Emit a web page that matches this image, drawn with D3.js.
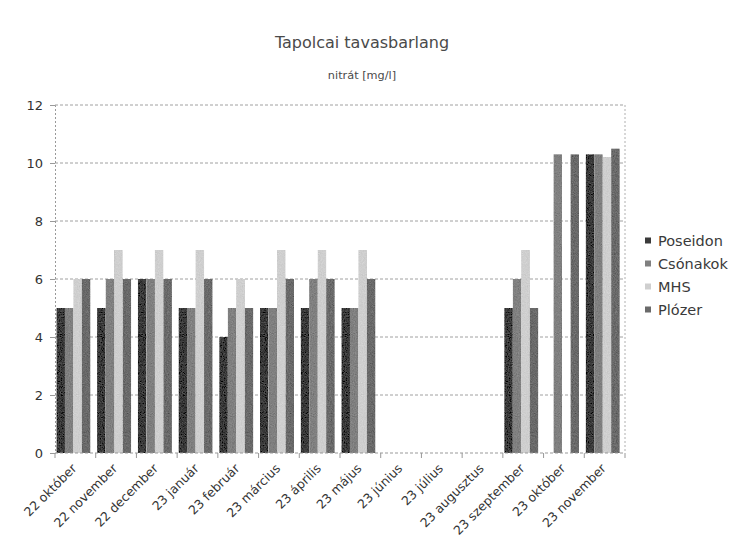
<!DOCTYPE html>
<html>
<head>
<meta charset="utf-8">
<script src="https://cdn.jsdelivr.net/npm/d3@7"></script>
<style>
  body { margin: 0; background: #fff; }
  svg { display: block; font-family: "DejaVu Sans", sans-serif; }
</style>
</head>
<body>
<svg id="chart" width="734" height="551"></svg>
<script>
const categories = ["22 október", "22 november", "22 december", "23 január", "23 február", "23 március", "23 április", "23 május", "23 június", "23 július", "23 augusztus", "23 szeptember", "23 október", "23 november"];
const seriesNames = ["Poseidon", "Csónakok", "MHS", "Plózer"];
const poseidon = [5, 5, 6, 5, 4, 5, 5, 5, null, null, null, 5, null, 10.3];
const csonakok = [5, 6, 6, 5, 5, 5, 6, 5, null, null, null, 6, 10.3, 10.3];
const mhs      = [6, 7, 7, 7, 6, 7, 7, 7, null, null, null, 7, null, 10.2];
const plozer   = [6, 6, 6, 6, 5, 6, 6, 6, null, null, null, 5, 10.3, 10.5];
const yTicks = [0, 2, 4, 6, 8, 10, 12];
const colors = ["#3a3a3a", "#808080", "#cfcfcf", "#6a6a6a"];

const seriesValues = [poseidon, csonakok, mhs, plozer];
const svg = d3.select("#chart");
const mLeft = 55, mRight = 625, mTop = 105, mBottom = 453;

// grain filter to mimic the scanned texture
const defs = svg.append("defs");
const f = defs.append("filter").attr("id", "grain").attr("x", 0).attr("y", 0).attr("width", 1).attr("height", 1);
f.append("feTurbulence").attr("type", "fractalNoise").attr("baseFrequency", 0.9).attr("numOctaves", 2).attr("seed", 3).attr("result", "n");
f.append("feColorMatrix").attr("in", "n").attr("type", "matrix")
  .attr("values", "0.33 0.33 0.33 0 0  0.33 0.33 0.33 0 0  0.33 0.33 0.33 0 0  0 0 0 0 1").attr("result", "g");
f.append("feComposite").attr("in", "SourceGraphic").attr("in2", "g").attr("operator", "arithmetic")
  .attr("k1", 0).attr("k2", 1).attr("k3", 0.3).attr("k4", -0.15).attr("result", "c");
f.append("feComposite").attr("in", "c").attr("in2", "SourceGraphic").attr("operator", "in");

const x0 = d3.scaleBand().domain(categories).range([mLeft, mRight]);
const bw = x0.bandwidth();
const x1 = d3.scaleBand().domain(seriesNames).range([0.035 * bw, 0.87 * bw]);
const y = d3.scaleLinear().domain([0, 12]).range([mBottom, mTop]);

// title
svg.append("text").attr("x", 362).attr("y", 48).attr("text-anchor", "middle")
  .attr("font-size", 16).attr("fill", "#4a4a4a").text("Tapolcai tavasbarlang");
svg.append("text").attr("x", 362).attr("y", 79).attr("text-anchor", "middle")
  .attr("font-size", 11.3).attr("fill", "#4a4a4a").text("nitrát [mg/l]");

// gridlines
svg.append("g").selectAll("line").data(yTicks.filter(d => d > 0)).join("line")
  .attr("x1", mLeft).attr("x2", mRight)
  .attr("y1", d => y(d)).attr("y2", d => y(d))
  .attr("stroke", "#a0a0a0").attr("stroke-width", 1).attr("stroke-dasharray", "3,2");
// right border
svg.append("line").attr("x1", mRight).attr("x2", mRight).attr("y1", mTop).attr("y2", mBottom)
  .attr("stroke", "#b0b0b0").attr("stroke-dasharray", "2,2");

// bars
const groups = svg.append("g").selectAll("g").data(categories).join("g")
  .attr("transform", d => `translate(${x0(d)},0)`);
groups.selectAll("rect")
  .data((c, i) => seriesNames.map((s, k) => ({ s, k, v: seriesValues[k][i] })).filter(d => d.v != null))
  .join("rect")
  .attr("x", d => x1(d.s)).attr("width", x1.bandwidth())
  .attr("y", d => y(d.v)).attr("height", d => y(0) - y(d.v))
  .attr("fill", d => colors[d.k])
  .attr("filter", "url(#grain)");

// y axis
const yAxis = d3.axisLeft(y).tickValues(yTicks).tickSize(5).tickPadding(7);
const gy = svg.append("g").attr("transform", `translate(${mLeft},0)`).call(yAxis);
gy.select(".domain").attr("stroke", "#999").attr("stroke-dasharray", "2,2");
gy.selectAll(".tick line").attr("stroke", "#999");
gy.selectAll(".tick text").attr("font-size", 13).attr("fill", "#333")
  .attr("font-family", "DejaVu Sans, sans-serif");

// x axis
const gx = svg.append("g").attr("transform", `translate(0,${mBottom})`);
gx.append("line").attr("x1", mLeft).attr("x2", mRight).attr("y1", 0).attr("y2", 0)
  .attr("stroke", "#999").attr("stroke-dasharray", "3,2");
const bounds = categories.map(c => x0(c)).concat([mRight]);
gx.selectAll("line.tk").data(bounds).join("line").attr("class", "tk")
  .attr("x1", d => d).attr("x2", d => d).attr("y1", 0).attr("y2", 5).attr("stroke", "#999");
gx.selectAll("text").data(categories).join("text")
  .attr("transform", d => `translate(${x0(d) + bw / 2 - 1},${13}) rotate(-45)`)
  .attr("text-anchor", "end").attr("font-size", 12.5).attr("fill", "#333")
  .attr("dy", "0.35em").text(d => d);

// legend
const lg = svg.append("g").attr("transform", "translate(645,241)");
const items = lg.selectAll("g").data(seriesNames).join("g")
  .attr("transform", (d, i) => `translate(0,${i * 23})`);
items.append("rect").attr("x", 0).attr("y", -3.5).attr("width", 6).attr("height", 6)
  .attr("fill", (d, i) => colors[i]);
items.append("text").attr("x", 13).attr("y", 0).attr("dy", "0.35em")
  .attr("font-size", 14.5).attr("fill", "#3a3a3a").text(d => d);
</script>
</body>
</html>
